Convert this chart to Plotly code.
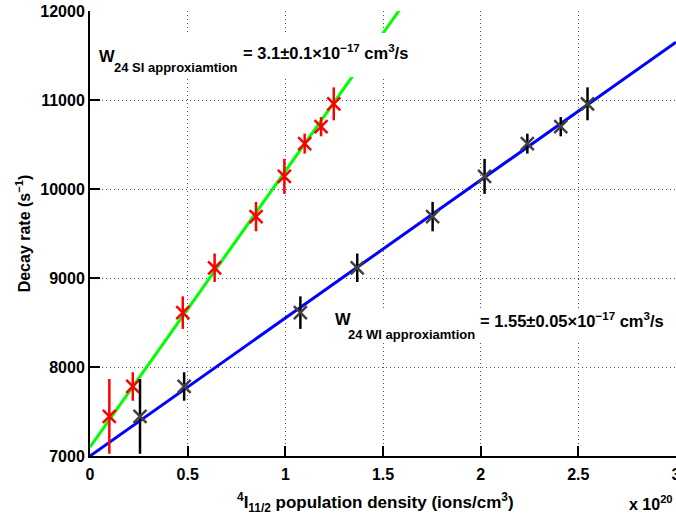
import plotly.graph_objects as go

# Population density of 4I11/2 (x 1e20 ions/cm^3) for the two approximations
density_si = [0.099, 0.219, 0.475, 0.638, 0.850, 0.995, 1.099, 1.183, 1.248]
density_wi = [0.256, 0.482, 1.077, 1.368, 1.754, 2.020, 2.239, 2.410, 2.547]

# Measured decay rates (s^-1) and their uncertainties
decay_rate = [7445, 7781, 8611, 9115, 9690, 10142, 10510, 10700, 10957]
decay_err = [420, 160, 183, 160, 165, 197, 112, 108, 185]

# Linear fits: slope in s^-1 per 1e20 ions/cm^3 (W24 x 1e20), intercept in s^-1
fit_si = {"slope": 3100, "intercept": 7100}
fit_wi = {"slope": 1550, "intercept": 7000}
fit_x = [0, 3]

x_ticks = [0, 0.5, 1, 1.5, 2, 2.5, 3]
x_tick_text = ["0", "0.5", "1", "1.5", "2", "2.5", "3"]
y_ticks = [7000, 8000, 9000, 10000, 11000, 12000]

FONT = "Liberation Sans, Arial, sans-serif"


def line_values(fit, xs):
    return [fit["intercept"] + fit["slope"] * x for x in xs]


fig = go.Figure()

fig.add_trace(go.Scatter(
    x=fit_x, y=line_values(fit_si, fit_x), mode="lines",
    line=dict(color="#00ff00", width=3), showlegend=False, hoverinfo="skip"))
fig.add_trace(go.Scatter(
    x=fit_x, y=line_values(fit_wi, fit_x), mode="lines",
    line=dict(color="#0000ff", width=3), showlegend=False, hoverinfo="skip"))

fig.add_trace(go.Scatter(
    x=density_si, y=decay_rate, mode="markers",
    marker=dict(symbol="x-thin", size=13, line=dict(color="#ff0000", width=2.5)),
    error_y=dict(type="data", array=decay_err, visible=True, width=0,
                 thickness=2.5, color="#ff0000"),
    showlegend=False))
fig.add_trace(go.Scatter(
    x=density_wi, y=decay_rate, mode="markers",
    marker=dict(symbol="x-thin", size=13, line=dict(color="#404040", width=2.5)),
    error_y=dict(type="data", array=decay_err, visible=True, width=0,
                 thickness=2.5, color="#000000"),
    showlegend=False))


def fit_label(x_w, y_w, x_sub, y_sub, x_eq, y_eq, sub_text, eq_text, box):
    """W with a lowered subscript, then the fitted value, on a white panel."""
    fig.add_shape(type="rect", xref="x", yref="y", layer="above",
                  x0=box[0], x1=box[1], y0=box[2], y1=box[3],
                  fillcolor="white", line=dict(width=0))
    common = dict(xref="x", yref="y", xanchor="left", yanchor="middle",
                  showarrow=False, borderpad=0, borderwidth=0)
    fig.add_annotation(x=x_w, y=y_w, text="<b>W</b>",
                       font=dict(family=FONT, size=16.5, color="black"), **common)
    fig.add_annotation(x=x_sub, y=y_sub, text=f"<b>{sub_text}</b>",
                       font=dict(family=FONT, size=13, color="black"), **common)
    fig.add_annotation(x=x_eq, y=y_eq, text=f"<b>{eq_text}</b>",
                       font=dict(family=FONT, size=16.5, color="black"), **common)


fit_label(0.046, 11500, 0.123, 11360, 0.782, 11545,
          "24 SI approxiamtion",
          "= 3.1±0.1×10<sup>−17</sup> cm<sup>3</sup>/s",
          (0.031, 1.648, 11259, 11753))
fit_label(1.254, 8535, 1.320, 8362, 1.996, 8530,
          "24 WI approxiamtion",
          "= 1.55±0.05×10<sup>−17</sup> cm<sup>3</sup>/s",
          (1.238, 2.968, 8294, 8654))

# x-axis title and exponent label, placed in paper coordinates
fig.add_annotation(
    x=0.488, y=-0.105, xref="paper", yref="paper", xanchor="center", yanchor="middle",
    text="<b><sup>4</sup>I<sub>11/2</sub> population density (ions/cm<sup>3</sup>)</b>",
    showarrow=False, font=dict(family=FONT, size=17, color="black"))
fig.add_annotation(
    x=1, y=-0.105, xref="paper", yref="paper", xanchor="right", yanchor="middle",
    xshift=-1, text="<b>x 10<sup>20</sup></b>", showarrow=False,
    font=dict(family=FONT, size=16, color="black"))

axis_common = dict(
    showline=True, linecolor="black", linewidth=2,
    ticks="inside", ticklen=10, tickwidth=2, tickcolor="black",
    showgrid=True, gridcolor="#555555", griddash="1px,3px", gridwidth=1,
    zeroline=False, mirror=False,
    tickfont=dict(family=FONT, size=16, color="black"),
)

fig.update_xaxes(
    range=[0, 3], tickvals=x_ticks, ticktext=[f"<b>{t}</b>" for t in x_tick_text],
    ticklabeloverflow="allow", ticklabelstandoff=3,
    automargin=False, **axis_common)
fig.update_yaxes(
    range=[7000, 12000], tickvals=y_ticks,
    ticktext=[f"<b>{t}</b>" for t in y_ticks],
    title=dict(text="<b>Decay rate (s<sup>−1</sup>)</b>",
               font=dict(family=FONT, size=16, color="black"), standoff=6),
    automargin=False, **axis_common)

fig.update_layout(
    width=676, height=523,
    margin=dict(l=90, r=0, t=11, b=67),
    plot_bgcolor="white", paper_bgcolor="white",
    font=dict(family=FONT, color="black"),
)

fig.write_html("out.html")
